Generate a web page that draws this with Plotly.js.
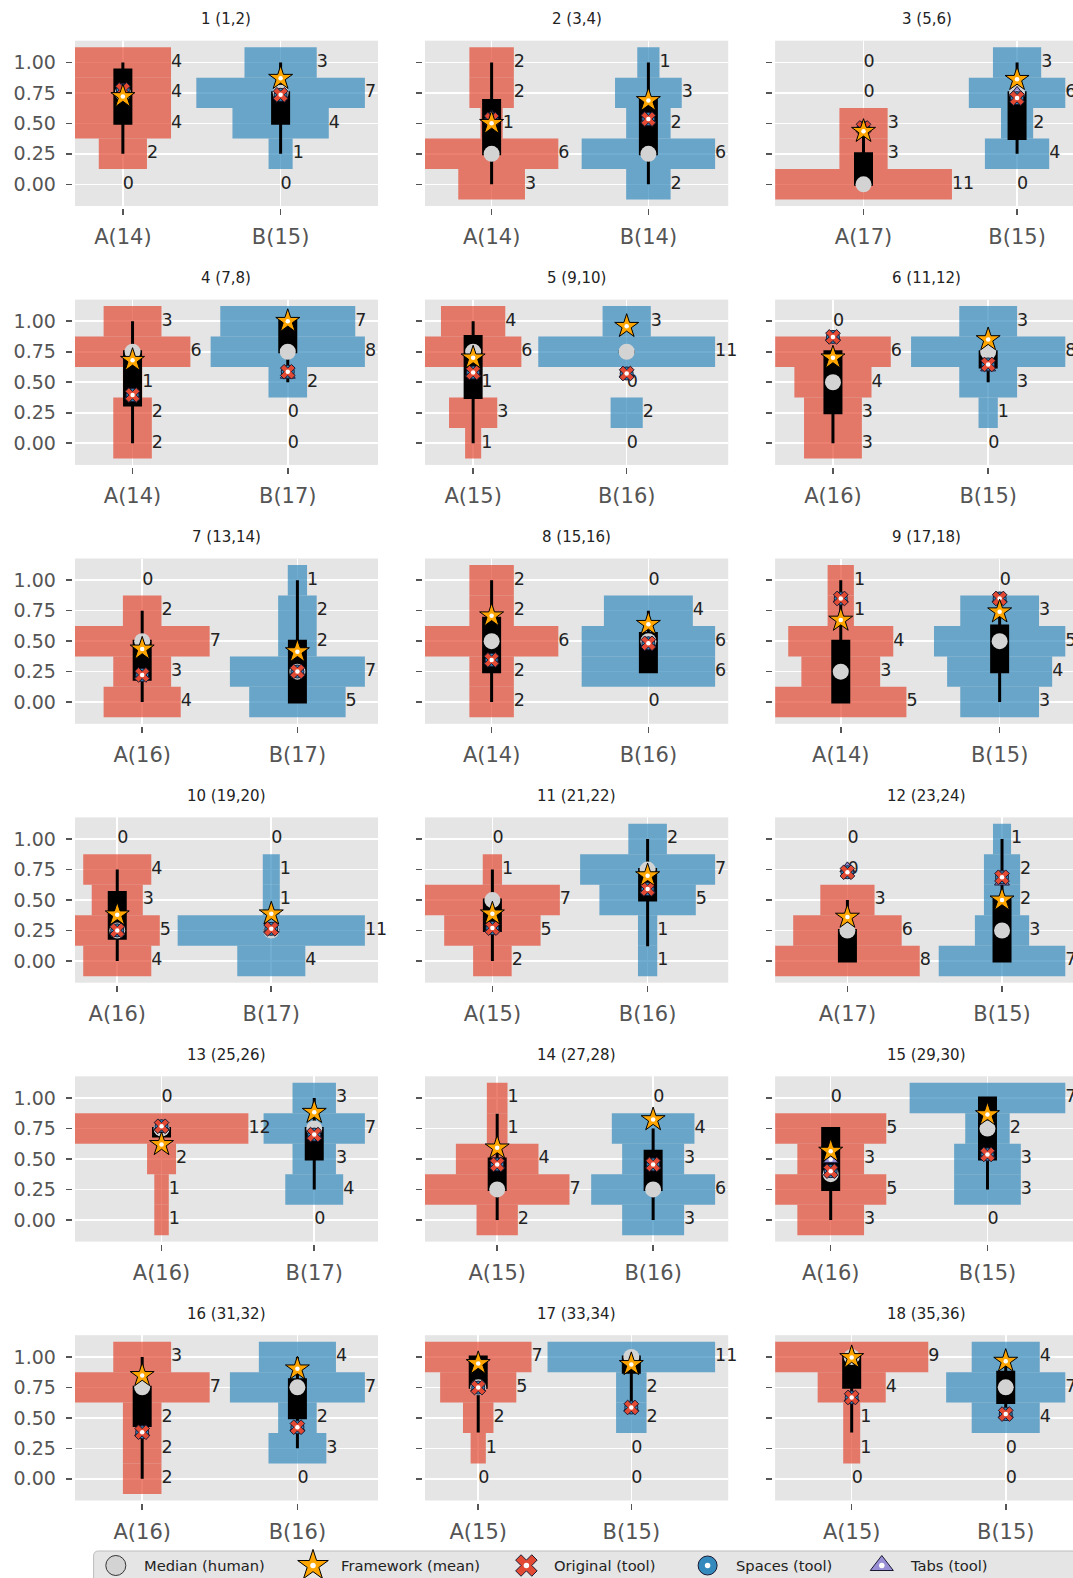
<!DOCTYPE html>
<html>
<head>
<meta charset="utf-8">
<script src="https://cdn.plot.ly/plotly-3.0.1.min.js"></script>
<style>
  html, body { margin: 0; padding: 0; background: #ffffff; width: 1073px; height: 1578px; overflow: hidden; }
  #chart { width: 1080px; height: 1578px; }
</style>
</head>
<body>
<div id="chart"></div>
<script>
// Rating levels (histogram bins), listed top to bottom
const levels = [1.0, 0.75, 0.5, 0.25, 0.0];

const titles = [
  '1 (1,2)', '2 (3,4)', '3 (5,6)', '4 (7,8)', '5 (9,10)', '6 (11,12)',
  '7 (13,14)', '8 (15,16)', '9 (17,18)', '10 (19,20)', '11 (21,22)', '12 (23,24)',
  '13 (25,26)', '14 (27,28)', '15 (29,30)', '16 (31,32)', '17 (33,34)', '18 (35,36)'
];

// Number of ratings per level for variant A and B (order follows `levels`)
const countsA = [
  [4,4,4,2,0], [2,2,1,6,3], [0,0,3,3,11], [3,6,1,2,2], [4,6,1,3,1], [0,6,4,3,3],
  [0,2,7,3,4], [2,2,6,2,2], [1,1,4,3,5], [0,4,3,5,4], [0,1,7,5,2], [0,0,3,6,8],
  [0,12,2,1,1], [1,1,4,7,2], [0,5,3,5,3], [3,7,2,2,2], [7,5,2,1,0], [9,4,1,1,0]
];
const countsB = [
  [3,7,4,1,0], [1,3,2,6,2], [3,6,2,4,0], [7,8,2,0,0], [3,11,0,2,0], [3,8,3,1,0],
  [1,2,2,7,5], [0,4,6,6,0], [0,3,5,4,3], [0,1,1,11,4], [2,7,5,1,1], [1,2,2,3,7],
  [3,7,3,4,0], [0,4,3,6,3], [7,2,3,3,0], [4,7,2,3,0], [11,2,2,0,0], [4,7,4,0,0]
];

// Box statistics of the human ratings: [lower whisker, Q1, median, Q3, upper whisker]
const boxA = [
  [0.25,0.5,0.75,0.9375,1], [0,0.25,0.25,0.6875,1], [0,0,0,0.25,0.5],
  [0,0.3125,0.75,0.75,1], [0,0.375,0.75,0.875,1], [0,0.25,0.5,0.75,0.75],
  [0,0.1875,0.5,0.5,0.75], [0,0.25,0.5,0.6875,1], [0,0,0.25,0.5,1],
  [0,0.1875,0.25,0.5625,0.75], [0,0.25,0.5,0.5,0.75], [0,0,0.25,0.25,0.5],
  [0.6875,0.6875,0.75,0.75,0.75], [0,0.25,0.25,0.5,0.87], [0,0.25,0.375,0.75,0.75],
  [0,0.4375,0.75,0.75,1], [0.38,0.75,0.75,1,1], [0.38,0.75,1,1,1]
];
const boxB = [
  [0.25,0.5,0.75,0.75,1], [0,0.25,0.25,0.6875,1], [0.25,0.375,0.75,0.75,1],
  [0.5,0.75,0.75,1,1], [0.75,0.75,0.75,0.75,0.75], [0.5,0.625,0.75,0.75,0.75],
  [0,0,0.25,0.5,1], [0.25,0.25,0.5,0.5625,0.75], [0,0.25,0.5,0.625,0.75],
  [0.25,0.25,0.25,0.25,0.25], [0.12,0.5,0.75,0.75,1], [0,0,0.25,0.5,1],
  [0.25,0.5,0.75,0.75,1], [0,0.25,0.25,0.5625,0.75], [0.25,0.5,0.75,1,1],
  [0.25,0.5,0.75,0.8125,1], [0.6,0.875,1,1,1], [0.5,0.625,0.75,0.875,1]
];

// Framework (mean) scores
const frameworkA = [0.72,0.50,0.435,0.68,0.70,0.70, 0.436,0.708,0.673,0.379,0.387,0.36, 0.619,0.591,0.564,0.848,0.946,0.995];
const frameworkB = [0.87,0.6875,0.861,1.0,0.959,0.85, 0.414,0.638,0.741,0.387,0.70,0.501, 0.883,0.823,0.864,0.902,0.938,0.965];

// Tool scores: original, with spaces, with tabs
const originalA = [0.774,0.53,0.462,0.395,0.58,0.872, 0.223,0.346,0.85,0.251,0.27,0.728, 0.768,0.455,0.40,0.382,0.748,0.667];
const originalB = [0.734,0.535,0.707,0.586,0.572,0.646, 0.251,0.482,0.85,0.264,0.591,0.687, 0.70,0.455,0.537,0.423,0.585,0.531];
const spacesA   = [0.774,0.53,0.462,0.395,0.58,0.872, 0.223,0.346,0.85,0.251,0.27,0.728, 0.768,0.455,0.40,0.382,0.748,0.667];
const spacesB   = [0.734,0.535,0.707,0.586,0.572,0.646, 0.251,0.482,0.85,0.264,0.591,0.687, 0.70,0.455,0.537,0.423,0.585,0.531];
const tabsA     = [0.774,0.557,0.462,0.395,0.58,0.872, 0.223,0.346,0.85,0.251,0.27,0.76, 0.768,0.455,0.496,0.382,0.748,0.667];
const tabsB     = [0.734,0.535,0.75,0.56,0.572,0.62, 0.251,0.482,0.85,0.264,0.591,0.65, 0.70,0.455,0.537,0.423,0.585,0.531];

// Legend entries
const legendNames = ['Median (human)', 'Framework (mean)', 'Original (tool)', 'Spaces (tool)', 'Tabs (tool)'];

// ---------------------------------------------------------------- drawing
const W = 1080, H = 1578;
const FONT = 'DejaVu Sans, Verdana, sans-serif';
const COL_X0 = 74.7, COL_STEP = 350.2, PLOT_W = 303.3;
const ROW_TOP = 40.7, ROW_STEP = 258.9, PLOT_H = 165.3;
const GAP_COUNTS = 2.1;    // free space between the widest A and B bars, in ratings
const RIGHT_PX = 13.1;     // room for the count labels on the right
const BOX_PX = 16;

const RED = '#E24A33', BLUE = '#348ABD', PURPLE = '#988ED5', GOLD = '#FFA500', GREY = '#D3D3D3';
const RED_BAR = 'rgba(226,74,51,0.7)', BLUE_BAR = 'rgba(52,138,189,0.7)';
const EDGE = '#1a1a33';
const PANEL_BG = '#E5E5E5';

const traces = [];
const layout = {
  width: W, height: H,
  margin: {l: 0, r: 0, t: 0, b: 0},
  paper_bgcolor: '#ffffff', plot_bgcolor: PANEL_BG,
  barmode: 'overlay', boxmode: 'overlay',
  showlegend: false,
  hovermode: false,
  font: {family: FONT, color: '#555555'},
  annotations: [],
  shapes: []
};

const sum = arr => arr.reduce((a, b) => a + b, 0);

// marker style per series (plot size, legend size)
const styles = {
  median:    {symbol: 'circle', color: GREY, line: {width: 0}, size: 16, lsize: 20},
  framework: {symbol: 'star', color: GOLD, line: {color: '#000000', width: 1}, size: 18, lsize: 23},
  original:  {symbol: 'x', color: RED, line: {color: EDGE, width: 1}, size: 13, lsize: 19},
  spaces:    {symbol: 'circle', color: BLUE, line: {color: EDGE, width: 1}, size: 13, lsize: 19},
  tabs:      {symbol: 'triangle-up', color: PURPLE, line: {color: EDGE, width: 1}, size: 13, lsize: 20}
};

function pointTraces(xa, ya, xs, ys, st, size, dot, dotSize) {
  const out = [{
    type: 'scatter', mode: 'markers', xaxis: xa, yaxis: ya, x: xs, y: ys,
    marker: {symbol: st.symbol, size: size, color: st.color, line: st.line},
    showlegend: false, hoverinfo: 'skip', cliponaxis: false
  }];
  if (dot) {
    out.push({
      type: 'scatter', mode: 'markers', xaxis: xa, yaxis: ya, x: xs, y: ys,
      marker: {symbol: 'circle', size: dotSize, color: '#FFFFFF', line: {width: 0}},
      showlegend: false, hoverinfo: 'skip', cliponaxis: false
    });
  }
  return out;
}

for (let i = 0; i < titles.length; i++) {
  const row = Math.floor(i / 3), col = i % 3;
  const suffix = i === 0 ? '' : String(i + 1);
  const xa = 'x' + suffix, ya = 'y' + suffix;
  const cA = countsA[i], cB = countsB[i];
  const mA = Math.max(...cA), mB = Math.max(...cB);
  const s = 1 / (mA + mB + GAP_COUNTS);            // x units per rating
  const left = -mA * s, dataRight = 1 + mB * s;
  const pxPerUnit = (PLOT_W - RIGHT_PX) / (dataRight - left);
  const right = dataRight + RIGHT_PX / pxPerUnit;

  // histogram bars, centred on A (x=0) and B (x=1)
  traces.push({
    type: 'bar', orientation: 'h', xaxis: xa, yaxis: ya,
    y: levels, x: cA.map(c => 2 * c * s), base: cA.map(c => -c * s), width: 0.25,
    marker: {color: RED_BAR, line: {width: 0}}, showlegend: false, hoverinfo: 'skip'
  });
  traces.push({
    type: 'bar', orientation: 'h', xaxis: xa, yaxis: ya,
    y: levels, x: cB.map(c => 2 * c * s), base: cB.map(c => 1 - c * s), width: 0.25,
    marker: {color: BLUE_BAR, line: {width: 0}}, showlegend: false, hoverinfo: 'skip'
  });

  // count labels at the right end of each bar
  traces.push({
    type: 'scatter', mode: 'text', xaxis: xa, yaxis: ya,
    x: cA.map(c => c * s).concat(cB.map(c => 1 + c * s)),
    y: levels.concat(levels),
    text: cA.concat(cB).map(String),
    textposition: 'middle right',
    textfont: {family: FONT, size: 17.5, color: '#222222'},
    showlegend: false, hoverinfo: 'skip', cliponaxis: false
  });

  // box plot of the ratings
  const bA = boxA[i], bB = boxB[i];
  traces.push({
    type: 'box', xaxis: xa, yaxis: ya, x: [0, 1],
    lowerfence: [bA[0], bB[0]], q1: [bA[1], bB[1]], median: [bA[2], bB[2]],
    q3: [bA[3], bB[3]], upperfence: [bA[4], bB[4]],
    width: BOX_PX / pxPerUnit, whiskerwidth: 0, boxpoints: false,
    fillcolor: '#000000', line: {color: '#000000', width: 3},
    showlegend: false, hoverinfo: 'skip'
  });

  // point markers
  const X2 = [0, 1];
  traces.push(...pointTraces(xa, ya, X2, [bA[2], bB[2]], styles.median, styles.median.size, false));
  traces.push(...pointTraces(xa, ya, X2, [tabsA[i], tabsB[i]], styles.tabs, styles.tabs.size, true, 4.5));
  traces.push(...pointTraces(xa, ya, X2, [spacesA[i], spacesB[i]], styles.spaces, styles.spaces.size, true, 4.5));
  traces.push(...pointTraces(xa, ya, X2, [originalA[i], originalB[i]], styles.original, styles.original.size, true, 4.5));
  traces.push(...pointTraces(xa, ya, X2, [frameworkA[i], frameworkB[i]], styles.framework, styles.framework.size, true, 4.5));

  // axes
  const x0 = COL_X0 + col * COL_STEP, top = ROW_TOP + row * ROW_STEP;
  layout['xaxis' + suffix] = {
    domain: [x0 / W, Math.min(1, (x0 + PLOT_W) / W)], anchor: ya,
    range: [left, right],
    tickmode: 'array', tickvals: [0, 1], ticktext: ['A(' + sum(cA) + ')', 'B(' + sum(cB) + ')'],
    showgrid: true, gridcolor: '#FFFFFF', gridwidth: 1.6, zeroline: false,
    showline: true, linecolor: '#FFFFFF', linewidth: 3,
    ticks: 'outside', ticklen: 6, tickwidth: 1.6, tickcolor: '#555555',
    ticklabelstandoff: 4,
    tickfont: {family: FONT, size: 21, color: '#555555'}, fixedrange: true
  };
  layout['yaxis' + suffix] = {
    domain: [1 - (top + PLOT_H) / H, 1 - top / H], anchor: xa,
    range: [-0.178, 1.178],
    tickmode: 'array', tickvals: levels, ticktext: levels.map(v => v.toFixed(2)),
    showticklabels: col === 0,
    showgrid: true, gridcolor: '#FFFFFF', gridwidth: 1.6, zeroline: false,
    showline: true, linecolor: '#FFFFFF', linewidth: 3,
    ticks: 'outside', ticklen: 6, tickwidth: 1.6, tickcolor: '#555555',
    ticklabelstandoff: 6,
    tickfont: {family: FONT, size: 19, color: '#555555'}, fixedrange: true
  };

  // panel title
  layout.annotations.push({
    text: titles[i], showarrow: false,
    xref: xa + ' domain', yref: ya + ' domain', x: 0.5, y: 1,
    xanchor: 'center', yanchor: 'middle', yshift: 21.5,
    font: {family: FONT, size: 15, color: '#222222'}
  });
}

// ---------------------------------------------------------------- legend strip
// A pixel-scaled axis pair holds the legend symbols and their labels.
const LEG_LEFT = 93.6, LEG_TOP = 1551, LEG_Y = 1565.5, LEG_R = 5;
const legendSymbolX = [115.8, 313, 526.4, 707.6, 881.8];
const legendStyles = [styles.median, styles.framework, styles.original, styles.spaces, styles.tabs];
layout.xaxis19 = {
  domain: [(LEG_LEFT + LEG_R) / W, 1], anchor: 'y19', range: [LEG_LEFT + LEG_R, W],
  showgrid: false, zeroline: false, showticklabels: false, ticks: '', fixedrange: true
};
layout.yaxis19 = {
  domain: [0, (H - LEG_TOP - LEG_R) / H], anchor: 'x19', range: [H, LEG_TOP + LEG_R],
  showgrid: false, zeroline: false, showticklabels: false, ticks: '', fixedrange: true
};
legendNames.forEach((name, k) => {
  const st = legendStyles[k];
  const lineSt = k === 0 ? {color: '#333333', width: 1} : st.line;
  traces.push(...pointTraces('x19', 'y19', [legendSymbolX[k]], [LEG_Y],
    {symbol: st.symbol, color: st.color, line: lineSt}, st.lsize, k > 0, 5.5));
  layout.annotations.push({
    text: name, showarrow: false, xref: 'x19', yref: 'y19',
    x: legendSymbolX[k] + 26, y: LEG_Y, xanchor: 'left', yanchor: 'middle',
    font: {family: FONT, size: 14.7, color: '#222222'}
  });
});
// rounded legend frame (paper units)
const px = v => v / W, py = v => 1 - v / H;
const frame = 'M ' + px(LEG_LEFT) + ',' + py(H + 10) +
  ' L ' + px(LEG_LEFT) + ',' + py(LEG_TOP + LEG_R) +
  ' Q ' + px(LEG_LEFT) + ',' + py(LEG_TOP) + ' ' + px(LEG_LEFT + LEG_R) + ',' + py(LEG_TOP) +
  ' L ' + px(W + 10) + ',' + py(LEG_TOP) +
  ' L ' + px(W + 10) + ',' + py(H + 10) + ' Z';
layout.shapes.push({
  type: 'path', xref: 'paper', yref: 'paper', path: frame,
  line: {color: '#BDBDBD', width: 1}, fillcolor: PANEL_BG, layer: 'below'
});

Plotly.newPlot('chart', traces, layout, {displayModeBar: false, staticPlot: true});
</script>
</body>
</html>
